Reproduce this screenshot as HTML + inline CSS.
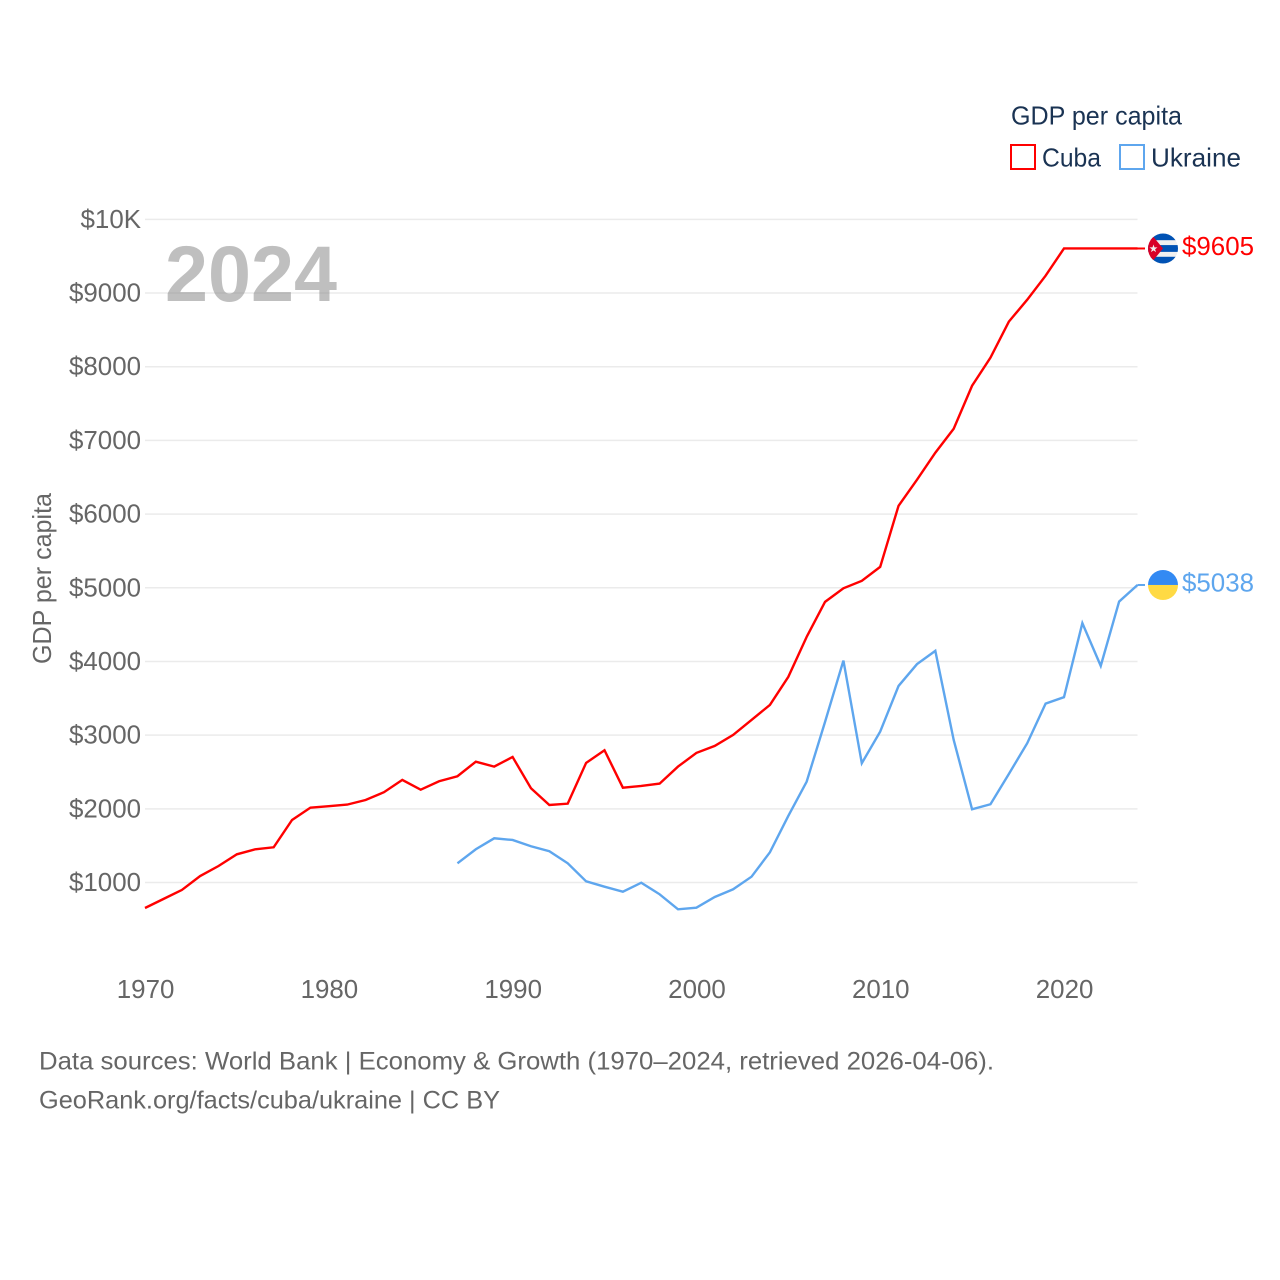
<!DOCTYPE html>
<html lang="en">
<head>
<meta charset="utf-8">
<title>GDP per capita: Cuba and Ukraine</title>
<style>
  html, body { margin: 0; padding: 0; background: #fff; }
  svg { display: block; font-family: "Liberation Sans", sans-serif; }
  .tick { font-size: 25.9px; fill: #666; }
  .src { font-size: 25px; fill: #666; }
  .leg { font-size: 26px; fill: #1a3353; }
  .val { font-size: 25.9px; }
</style>
</head>
<body>
<svg id="chart" width="1280" height="1280" viewBox="0 0 1280 1280" xmlns="http://www.w3.org/2000/svg">
  <rect width="1280" height="1280" fill="#fff"/>
  <g id="grid"></g>
  <g id="yticks"></g>
  <g id="xticks"></g>
  <text x="165" y="301" font-size="79" font-weight="bold" fill="#808080" fill-opacity="0.5" textLength="172" lengthAdjust="spacingAndGlyphs">2024</text>
  <text class="tick" transform="translate(51,664) rotate(-90)" textLength="171" lengthAdjust="spacingAndGlyphs">GDP per capita</text>
  <g id="series"></g>

  <g>
    <text class="leg" x="1011" y="124.5" textLength="171" lengthAdjust="spacingAndGlyphs">GDP per capita</text>
    <rect x="1011" y="145" width="24" height="24" fill="none" stroke="#ff0000" stroke-width="2"/>
    <text class="leg" x="1042" y="166.5" textLength="59" lengthAdjust="spacingAndGlyphs">Cuba</text>
    <rect x="1120" y="145" width="24" height="24" fill="none" stroke="#5ea6ee" stroke-width="2"/>
    <text class="leg" x="1151" y="166.5" textLength="90" lengthAdjust="spacingAndGlyphs">Ukraine</text>
  </g>

  <defs>
    <clipPath id="flag-clip"><circle cx="0" cy="0" r="15"/></clipPath>
  </defs>
  <g id="flag-cuba">
    <g clip-path="url(#flag-clip)">
      <rect x="-15" y="-15" width="30" height="30" fill="#f0f0f0"/>
      <rect x="-15" y="-15" width="30" height="6.7" fill="#0052b4"/>
      <rect x="-15" y="-3.4" width="30" height="6.8" fill="#0052b4"/>
      <rect x="-15" y="8.3" width="30" height="6.7" fill="#0052b4"/>
      <polygon points="0,0 -16,-19.5 -16,19.5" fill="#d80027"/>
      <polygon points="-9.5,-4 -8.5,-1.1 -5.5,-1.1 -7.9,0.8 -7,3.7 -9.5,1.9 -12,3.7 -11.1,0.8 -13.5,-1.1 -10.5,-1.1" fill="#f0f0f0"/>
    </g>
  </g>
  <g id="flag-ukraine">
    <g clip-path="url(#flag-clip)">
      <rect x="-15" y="-15" width="30" height="15" fill="#338af3"/>
      <rect x="-15" y="0" width="30" height="15" fill="#ffda44"/>
    </g>
  </g>
  <text id="value-cuba" class="val" x="1182" fill="#ff0000"></text>
  <text id="value-ukraine" class="val" x="1182" fill="#5ea6ee"></text>

  <g>
    <text class="src" x="39" y="1069.5" textLength="955" lengthAdjust="spacingAndGlyphs">Data sources: World Bank | Economy &amp; Growth (1970–2024, retrieved 2026-04-06).</text>
    <text class="src" x="39" y="1108.5" textLength="461" lengthAdjust="spacingAndGlyphs">GeoRank.org/facts/cuba/ukraine | CC BY</text>
  </g>
</svg>

<script>
const xTickYears = [1970, 1980, 1990, 2000, 2010, 2020];
const yTickValues = [1000, 2000, 3000, 4000, 5000, 6000, 7000, 8000, 9000, 10000];
const yTickLabels = ['$1000', '$2000', '$3000', '$4000', '$5000', '$6000', '$7000', '$8000', '$9000', '$10K'];

const cubaStartYear = 1970;
const cubaValues = [654, 776, 898, 1088, 1224, 1383, 1451, 1478, 1849, 2016,
  2035, 2057, 2120, 2225, 2392, 2260, 2374, 2442, 2640, 2573,
  2704, 2279, 2052, 2070, 2623, 2795, 2287, 2310, 2342, 2573,
  2759, 2854, 3003, 3207, 3410, 3791, 4334, 4809, 4993, 5094,
  5284, 6113, 6466, 6833, 7158, 7742, 8123, 8612, 8910, 9236,
  9605, 9605, 9605, 9605, 9605];

const ukraineStartYear = 1987;
const ukraineValues = [1261, 1451, 1600, 1577, 1492, 1424, 1261, 1016, 943, 875,
  997, 840, 636, 658, 803, 908, 1079, 1410, 1903, 2369,
  3180, 4012, 2619, 3048, 3668, 3963, 4144, 2935, 1994, 2062,
  2473, 2890, 3428, 3515, 4520, 3940, 4813, 5038];

const NS = 'http://www.w3.org/2000/svg';
const plotLeft = 145, plotRight = 1137.5;
const minYear = 1970, maxYear = 2024;
function xScale(year) {
  return plotLeft + (year - minYear) * (plotRight - plotLeft) / (maxYear - minYear);
}
function yScale(value) {
  return 882.5 - (value - 1000) * 0.07368;
}
function svgEl(tag, parent) {
  const el = document.createElementNS(NS, tag);
  parent.appendChild(el);
  return el;
}

const gridGroup = document.getElementById('grid');
const yTickGroup = document.getElementById('yticks');
yTickValues.forEach(function (v, i) {
  const line = svgEl('line', gridGroup);
  
  
  line.setAttribute('x1', plotLeft);
  line.setAttribute('x2', plotRight);
  line.setAttribute('y1', yScale(v));
  line.setAttribute('y2', yScale(v));
  line.setAttribute('stroke', '#ebebeb');
  line.setAttribute('stroke-width', '1.5');
  const label = svgEl('text', yTickGroup);
  
  
  label.setAttribute('class', 'tick');
  label.setAttribute('x', 141);
  label.setAttribute('y', yScale(v) + 8.5);
  label.setAttribute('text-anchor', 'end');
  label.textContent = yTickLabels[i];
});

const xTickGroup = document.getElementById('xticks');
xTickYears.forEach(function (yr) {
  const label = svgEl('text', xTickGroup);
  
  
  label.setAttribute('class', 'tick');
  label.setAttribute('x', xScale(yr) + 0.6);
  label.setAttribute('y', 998);
  label.setAttribute('text-anchor', 'middle');
  label.textContent = String(yr);
});

function drawSeries(values, startYear, color, lineName, connectorName) {
  const group = document.getElementById('series');
  const pts = values.map(function (v, i) {
    return xScale(startYear + i).toFixed(2) + ',' + yScale(v).toFixed(2);
  }).join(' ');
  const line = svgEl('polyline', group);
  
  
  line.setAttribute('points', pts);
  line.setAttribute('fill', 'none');
  line.setAttribute('stroke', color);
  line.setAttribute('stroke-width', '2.4');
  line.setAttribute('stroke-linejoin', 'miter');
  const last = values[values.length - 1];
  const conn = svgEl('line', group);
  
  
  conn.setAttribute('x1', xScale(maxYear));
  conn.setAttribute('x2', xScale(maxYear) + 7.5);
  conn.setAttribute('y1', yScale(last));
  conn.setAttribute('y2', yScale(last));
  conn.setAttribute('stroke', color);
  conn.setAttribute('stroke-width', '2');
  return last;
}

const cubaLast = drawSeries(cubaValues, cubaStartYear, '#ff0000', 'cuba-line', 'cuba-end-connector');
const ukraineLast = drawSeries(ukraineValues, ukraineStartYear, '#5ea6ee', 'ukraine-line', 'ukraine-end-connector');

function placeEnd(flagId, valueId, last) {
  const y = yScale(last);
  document.getElementById(flagId).setAttribute('transform', 'translate(1163,' + y + ')');
  const t = document.getElementById(valueId);
  t.setAttribute('y', y + 6.5);
  t.textContent = '$' + last;
}
placeEnd('flag-cuba', 'value-cuba', cubaLast);
placeEnd('flag-ukraine', 'value-ukraine', ukraineLast);
</script>
</body>
</html>
